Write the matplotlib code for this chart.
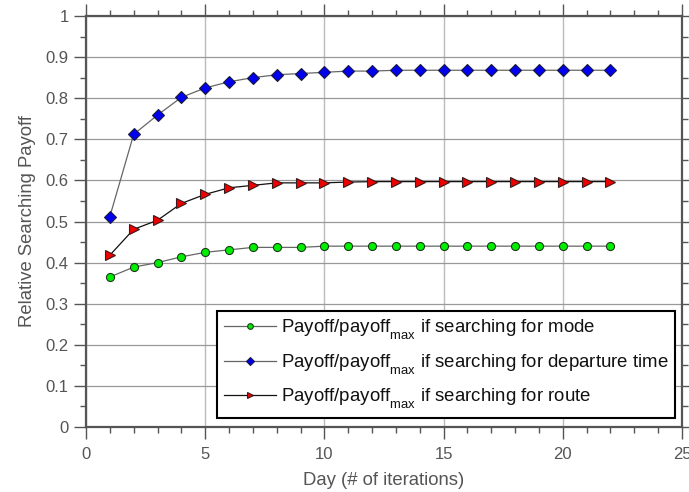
import matplotlib.pyplot as plt
import matplotlib._mathtext as mt
from matplotlib.ticker import MultipleLocator

plt.rcParams['font.family'] = ['Liberation Sans', 'DejaVu Sans']
plt.rcParams['mathtext.fontset'] = 'custom'
plt.rcParams['mathtext.rm'] = 'Liberation Sans'
plt.rcParams['mathtext.it'] = 'Liberation Sans'
# subscript sits lower in the original
mt.FontConstantsBase.subdrop = 0.75
mt.FontConstantsBase.sub1 = 0.75

# ==== data ====
days = list(range(1, 23))
mode = [0.365, 0.389, 0.400, 0.414, 0.425, 0.431, 0.437, 0.437, 0.437, 0.440, 0.440,
        0.440, 0.440, 0.440, 0.440, 0.440, 0.440, 0.440, 0.440, 0.440, 0.440, 0.440]
departure = [0.512, 0.712, 0.759, 0.802, 0.825, 0.840, 0.850, 0.857, 0.860, 0.863, 0.866,
             0.866, 0.868, 0.868, 0.868, 0.868, 0.868, 0.868, 0.868, 0.868, 0.868, 0.868]
route = [0.418, 0.481, 0.503, 0.544, 0.566, 0.582, 0.588, 0.594, 0.594, 0.594, 0.596,
         0.597, 0.597, 0.597, 0.597, 0.597, 0.597, 0.597, 0.597, 0.597, 0.597, 0.597]
labels = [r'Payoff/payoff$_{\mathrm{max}}$ if searching for mode',
          r'Payoff/payoff$_{\mathrm{max}}$ if searching for departure time',
          r'Payoff/payoff$_{\mathrm{max}}$ if searching for route']
yticklabels = ['0', '0.1', '0.2', '0.3', '0.4', '0.5', '0.6', '0.7', '0.8', '0.9', '1']

txt = '#555555'
fig = plt.figure(figsize=(6.89, 4.92), dpi=100)
ax = fig.add_axes([86 / 689, 1 - 427 / 492, 596 / 689, 411 / 492])

ax.plot(days, mode, color='#666666', lw=0.9, marker='o', ms=5.8,
        mfc='#00ee00', mec='#1a3a1a', mew=0.8, label=labels[0])
ax.plot(days, departure, color='#666666', lw=0.9, marker='D', ms=6,
        mfc='#0000ee', mec='#1a1a3a', mew=0.8, label=labels[1])
ax.plot(days, route, color='#111111', lw=0.9, marker='>', ms=7,
        mfc='#ee0000', mec='#3a1a1a', mew=0.8, label=labels[2])

ax.set_xlim(0, 25)
ax.set_ylim(0, 1)
ax.xaxis.set_major_locator(MultipleLocator(5))
ax.xaxis.set_minor_locator(MultipleLocator(1))
ax.set_yticks([i / 10 for i in range(11)])
ax.set_yticklabels(yticklabels)
ax.yaxis.set_minor_locator(MultipleLocator(0.05))

ax.xaxis.grid(True, which='major', color='#bbbbbb', lw=1.0)
ax.yaxis.grid(True, which='major', color='#999999', lw=0.9)
ax.tick_params(which='both', direction='out', top=True, right=True,
               colors='#555555', labelcolor=txt, labelsize=12)
ax.tick_params(which='major', length=8.5, width=1)
ax.tick_params(which='minor', length=4.3, width=1)
ax.tick_params(axis='x', which='major', pad=6)
ax.tick_params(axis='y', which='major', pad=4)
for s in ax.spines.values():
    s.set_color('#555555')
    s.set_linewidth(1.6)

ax.set_xlabel('Day (# of iterations)', color=txt, fontsize=13.3, labelpad=7)
ax.set_ylabel('Relative Searching Payoff', color=txt, fontsize=13.3, labelpad=7)

leg = ax.legend(loc='lower right', fontsize=13.4, handlelength=2.8, handletextpad=0.25,
                borderpad=0.35, labelspacing=0.55, fancybox=False, framealpha=1,
                markerscale=0.7, bbox_to_anchor=(0.988, 0.022), borderaxespad=0)
leg.get_frame().set_edgecolor('black')
leg.get_frame().set_linewidth(1.5)
for t in leg.get_texts():
    t.set_color('#111111')

fig.savefig('out.png', dpi=100)
